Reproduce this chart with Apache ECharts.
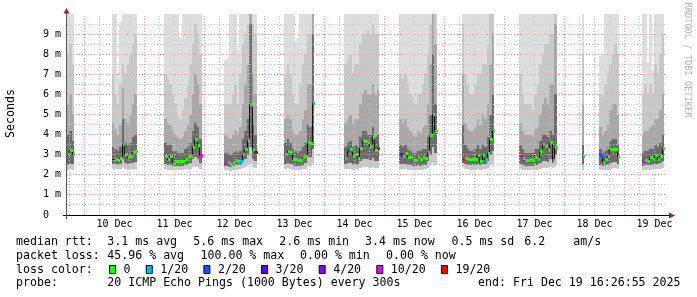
<!DOCTYPE html>
<html><head><meta charset="utf-8">
<script src="https://cdn.jsdelivr.net/npm/echarts@6/dist/echarts.min.js"></script>
<style>html,body{margin:0;padding:0;background:#fff}#c{width:697px;height:297px}</style>
</head><body><div id="c"></div>
<script>
// ---- axis / tick data ----
const dayLabels = ['10 Dec','11 Dec','12 Dec','13 Dec','14 Dec','15 Dec','16 Dec','17 Dec','18 Dec','19 Dec'];
const dayLabelHours = [12,36,60,84,108,132,156,180,204,228];   // hours since 10 Dec 00:00 (label at noon)
const yTickLabels = ['0','1 m','2 m','3 m','4 m','5 m','6 m','7 m','8 m','9 m'];
const xGridHours = [-6,0,6,12,18,24,30,36,42,48,54,60,66,72,78,84,90,96,102,108,114,120,126,132,138,144,150,156,162,168,174,180,186,192,198,204,210,216,222,228];
const yGridValues = [0.5,1,1.5,2,2.5,3,3.5,4,4.5,5,5.5,6,6.5,7,7.5,8,8.5,9,9.5];

// ---- data: hourly columns, grouped in reachable segments (values in ms) ----
const segStart = [-7, 11, 32, 56, 80, 104, 126, 151, 174, 199, 206, 223];
const median = [
 [3.02,3.23,3.02],
 [2.79,2.77,2.75,2.84,3.53,3.03,2.87,2.95,3.12,3.18],
 [2.94,2.79,2.92,2.60,2.67,2.67,2.67,2.67,2.80,2.87,2.92,3.37,3.80,3.50,3.00],
 [2.60,2.65,2.55,2.64,2.72,2.70,2.67,3.03,3.28,3.73,5.51,3.27,3.13],
 [3.02,3.20,3.13,2.77,2.77,2.74,2.72,2.90,2.92,3.62,3.58,5.56],
 [2.82,3.23,3.28,2.97,3.02,2.84,3.35,3.72,3.70,3.62,3.45,3.87,3.22,3.33],
 [3.02,2.92,3.08,2.87,2.87,2.75,2.72,2.87,2.77,2.87,2.84,3.13,3.98,5.02,4.19],
 [2.77,2.82,2.80,2.79,2.79,2.80,2.99,2.70,2.97,2.77,3.10,3.80,4.23],
 [2.94,2.82,2.72,2.76,2.79,2.74,2.90,2.80,3.20,3.53,3.45,3.27,3.65,2.75,3.40],
 [2.92],
 [2.97,2.64,2.80,2.92,3.28,3.27,3.30,2.95],
 [2.67,2.72,2.70,2.90,2.77,3.00,2.80,2.95,3.35]
];
const lossCount = [
 [0,0,0],
 [null,0,0,0,0,0,0,0,0,0],
 [0,0,0,0,0,0,0,0,0,0,0,0,0,0,10],
 [10,0,0,0,0,0,1,0,0,0,0,0,3],
 [0,0,0,0,0,0,0,0,0,0,0,1],
 [1,2,0,0,0,0,0,0,0,0,0,0,0,4],
 [3,0,0,0,0,0,0,0,0,0,0,0,0,0,0],
 [19,0,0,0,0,0,0,0,0,1,0,0,0],
 [10,0,0,0,0,0,0,0,0,0,0,0,0,0,0],
 [1],
 [2,0,0,0,0,0,0,0],
 [10,0,0,0,0,0,0,0,0]
];
const pingMin = [
 [2.25,2.3,2.25],
 [2.3,2.3,2.3,2.3,2.4,2.3,2.25,2.3,2.3,2.3],
 [2.3,2.25,2.25,2.25,2.25,2.25,2.25,2.25,2.3,2.3,2.3,2.4,2.45,2.4,2.3],
 [2.25,2.25,2.2,2.25,2.25,2.25,2.3,2.35,2.4,2.5,2.6,2.4,2.35],
 [2.3,2.35,2.3,2.25,2.25,2.25,2.25,2.3,2.3,2.45,2.45,2.6],
 [2.3,2.3,2.3,2.25,2.3,2.25,2.35,2.4,2.4,2.4,2.35,2.4,2.35,2.35],
 [2.3,2.3,2.3,2.25,2.25,2.25,2.25,2.25,2.25,2.25,2.3,2.35,2.5,2.6,2.5],
 [2.4,2.3,2.3,2.25,2.25,2.25,2.3,2.25,2.3,2.3,2.35,2.5,2.55],
 [2.3,2.25,2.25,2.25,2.25,2.25,2.25,2.25,2.3,2.35,2.35,2.35,2.4,2.35,2.45],
 [2.25],
 [2.25,2.25,2.25,2.25,2.3,2.35,2.35,2.3],
 [2.25,2.25,2.25,2.25,2.3,2.3,2.3,2.3,2.35]
];
const pingLow = [
 [2.5,2.55,2.55],
 [2.55,2.55,2.5,2.55,2.8,2.6,2.55,2.6,2.6,2.65],
 [2.55,2.5,2.5,2.45,2.45,2.45,2.45,2.45,2.5,2.55,2.6,2.8,2.9,2.8,2.6],
 [2.45,2.45,2.4,2.45,2.5,2.5,2.5,2.7,2.8,3.0,3.4,2.8,2.7],
 [2.55,2.6,2.55,2.5,2.45,2.45,2.45,2.5,2.6,2.9,2.9,3.3],
 [2.55,2.6,2.6,2.5,2.55,2.5,2.7,2.8,2.8,2.8,2.75,2.85,2.7,2.7],
 [2.55,2.55,2.55,2.5,2.5,2.45,2.45,2.5,2.45,2.5,2.5,2.7,3.0,3.4,3.1],
 [2.6,2.55,2.5,2.5,2.5,2.5,2.55,2.5,2.55,2.55,2.7,3.0,3.2],
 [2.55,2.5,2.45,2.45,2.45,2.45,2.5,2.5,2.6,2.7,2.7,2.65,2.8,2.6,3.0],
 [2.5],
 [2.5,2.45,2.5,2.5,2.6,2.65,2.65,2.55],
 [2.45,2.5,2.5,2.5,2.5,2.55,2.55,2.6,2.7]
];
const pingUp1 = [
 [4.0,4.2,3.7],
 [3.4,3.3,3.2,3.4,4.8,3.6,3.5,3.6,3.9,4.0],
 [3.6,3.5,3.5,3.2,3.2,3.1,3.1,3.1,3.3,3.4,3.6,4.2,4.6,4.4,3.8],
 [3.1,3.1,3.0,3.1,3.2,3.1,3.2,3.8,4.2,4.8,9.5,4.5,4.0],
 [3.6,3.8,3.6,3.3,3.2,3.1,3.2,3.4,3.6,4.5,4.4,9.0],
 [3.4,3.6,3.7,3.4,3.5,3.4,3.9,4.2,4.2,4.0,4.0,4.4,3.9,4.0],
 [3.5,3.4,3.5,3.3,3.2,3.1,3.1,3.2,3.2,3.3,3.3,3.9,5.0,8.0,5.5],
 [4.5,3.5,3.3,3.2,3.2,3.3,3.5,3.3,3.5,3.4,3.9,5.0,6.0],
 [3.5,3.3,3.1,3.1,3.1,3.1,3.3,3.3,3.7,4.0,4.0,3.9,4.2,4.0,6.0],
 [3.5],
 [3.3,3.1,3.2,3.3,3.7,3.8,3.8,3.5],
 [3.1,3.2,3.2,3.3,3.3,3.5,3.4,3.6,4.0]
];
const pingUp2 = [
 [5.5,6.0,5.0],
 [4.6,4.3,4.0,4.5,6.3,4.8,4.6,5.0,5.5,6.0],
 [4.8,4.6,4.5,4.2,4.0,3.9,3.8,3.9,4.2,4.5,5.0,6.0,7.0,6.5,5.5],
 [4.0,3.9,3.8,4.0,4.2,4.0,4.4,5.5,6.5,7.5,10.5,7.0,6.0],
 [4.8,5.0,4.8,4.2,4.0,4.0,4.2,4.8,5.2,6.5,6.5,10.5],
 [4.6,4.8,5.0,4.6,4.8,4.8,5.5,6.0,6.2,6.0,6.0,6.5,6.0,6.2],
 [4.8,4.6,4.8,4.4,4.2,4.0,3.9,4.2,4.1,4.4,4.5,5.5,7.5,10.5,8.5],
 [7.0,4.6,4.3,4.2,4.2,4.4,4.8,4.5,5.0,4.8,5.5,7.5,9.0],
 [4.6,4.2,4.0,4.0,4.0,3.9,4.3,4.4,5.0,5.5,5.8,5.5,6.5,6.5,9.5],
 [5.5],
 [4.4,4.0,4.2,4.5,5.2,5.5,5.5,5.0],
 [4.0,4.2,4.2,4.4,4.5,4.8,4.8,5.2,6.0]
];
const pingUp3 = [
 [8.0,8.5,7.5],
 [7.0,6.0,5.5,6.5,7.5,7.0,7.5,8.0,8.5,9.0],
 [7.0,6.8,6.5,6.0,5.5,5.0,4.8,5.2,5.8,6.5,7.5,8.5,9.5,9.0,8.0],
 [5.5,5.5,5.5,6.0,6.5,5.5,7.0,8.5,9.0,9.5,10.5,9.5,9.0],
 [7.0,7.5,7.0,6.0,5.5,5.5,6.5,7.5,8.0,9.0,9.0,10.5],
 [7.5,7.8,8.0,7.0,7.5,7.5,8.5,9.0,9.0,9.2,9.0,9.5,9.0,9.0],
 [7.0,6.8,7.0,6.5,6.0,5.8,5.5,6.0,6.0,6.5,7.0,8.0,9.5,10.5,10.5],
 [9.5,7.0,6.5,6.0,6.0,6.5,7.0,7.0,7.5,7.5,8.5,10.5,10.5],
 [7.0,6.0,5.5,5.5,5.5,5.2,6.0,6.5,7.5,8.0,8.5,8.5,9.0,9.0,10.5],
 [8.0],
 [6.0,5.8,6.5,7.0,7.5,8.0,8.5,8.0],
 [6.0,6.5,6.0,6.5,6.0,7.5,7.0,8.0,9.0]
];
const pingMax = [
 [10.5,10.5,10.5],
 [10.5,10.5,6.9,9.6,10.5,10.5,10.5,10.5,10.5,10.5],
 [10.5,10.5,10.5,10.5,10.5,10.5,8.8,10.5,10.5,10.5,10.5,10.5,10.5,10.5,10.5],
 [7.7,7.8,10.5,10.5,10.5,8.2,10.5,10.5,10.5,10.5,10.5,10.5,10.5],
 [10.5,10.5,10.5,10.5,8.6,8.8,10.5,10.5,10.5,10.5,10.5,10.5],
 [10.5,10.5,10.5,10.5,10.5,10.5,10.5,10.5,10.5,10.5,10.5,10.5,10.5,10.5],
 [10.5,10.5,10.5,10.5,10.5,10.5,10.5,10.5,10.5,10.5,10.5,10.5,10.5,10.5,10.5],
 [10.5,10.5,10.5,10.5,10.5,10.5,10.5,10.5,10.5,10.5,10.5,10.5,10.5],
 [10.5,10.5,10.5,10.5,10.5,10.5,10.5,10.5,10.5,10.5,10.5,10.5,10.5,10.5,10.5],
 [10.5],
 [7.9,8.0,10.5,10.5,10.5,10.5,10.5,10.5],
 [10.5,10.5,7.6,10.5,7.2,10.5,10.5,10.5,10.5]
];

// ---- legend data ----
const lossLevels = [0,1,2,3,4,10,19];
const lossLabels = ['0','1/20','2/20','3/20','4/20','10/20','19/20'];
const lossColors = ['#26ff00','#00b8ff','#0059ff','#5e00ff','#7e00ff','#dd00ff','#ff0000'];
const rttStats = ['3.1 ms avg','5.6 ms max','2.6 ms min','3.4 ms now','0.5 ms sd','6.2','am/s'];
const lossStats = ['45.96 % avg','100.00 % max','0.00 % min','0.00 % now'];
const probeText = '20 ICMP Echo Pings (1000 Bytes) every 300s';
const endText = 'end: Fri Dec 19 16:26:55 2025';

// ---- build series rows ----
const smokeRows = [], medRows = [];
segStart.forEach((s, i) => {
  median[i].forEach((m, k) => {
    const h = s + k;
    smokeRows.push([h, pingMin[i][k], pingLow[i][k], pingUp1[i][k], pingUp2[i][k], pingUp3[i][k], pingMax[i][k]]);
    medRows.push([h, m, lossCount[i][k] === null ? -1 : lossCount[i][k], k > 0 ? median[i][k - 1] : m]);
  });
});

function lossColor(n) {
  let c = null;
  lossLevels.forEach((lv, j) => { if (n >= lv) c = lossColors[j]; });
  return c;
}

const YMAX = 10;
const MONO = '"DejaVu Sans Mono", monospace';
const bands = [[1, 6, '#dedede'], [1, 5, '#c8c8c8'], [2, 4, '#a8a8a8'], [2, 3, '#6c6c6c']];

function renderSmoke(params, api) {
  const h = api.value(0);
  const x0 = Math.floor(api.coord([h, 0])[0]);
  const x1 = Math.floor(api.coord([h + 1, 0])[0]);
  const children = bands.map(([a, b, c]) => {
    const ya = Math.round(api.coord([h, Math.min(api.value(a), YMAX)])[1]);
    const yb = Math.round(api.coord([h, Math.min(api.value(b), YMAX)])[1]);
    return {type: 'rect', shape: {x: x0, y: yb, width: x1 - x0, height: ya - yb}, style: {fill: c}};
  });
  return {type: 'group', children};
}
function renderMedLine(params, api) {
  const h = api.value(0);
  const x0 = Math.floor(api.coord([h, 0])[0]);
  const x1 = Math.floor(api.coord([h + 1, 0])[0]);
  const y = Math.round(api.coord([h, api.value(1)])[1]) + 0.5;
  const yp = Math.round(api.coord([h, api.value(3)])[1]) + 0.5;
  return {type: 'polyline', shape: {points: [[x0 + 0.5, yp], [x0 + 0.5, y], [x1 + 0.5, y]]},
    style: {stroke: '#111', lineWidth: 1, fill: null}};
}
function renderMedian(params, api) {
  const n = api.value(2);
  if (n < 0) return null;
  const h = api.value(0);
  const x0 = Math.floor(api.coord([h, 0])[0]);
  const x1 = Math.floor(api.coord([h + 1, 0])[0]);
  const y = Math.round(api.coord([h, api.value(1)])[1]);
  return {type: 'rect', shape: {x: x0 + 1, y: y - 1, width: x1 - x0, height: 3}, style: {fill: lossColor(n)}};
}
function renderVGrid(params, api) {
  const h = api.value(0);
  const x = Math.floor(api.coord([h, 0])[0]) + 0.5;
  const yb = api.coord([h, 0])[1], yt = api.coord([h, YMAX])[1];
  return {type: 'line', shape: {x1: x, y1: yb, x2: x, y2: yt},
    style: {stroke: h % 24 === 0 ? '#e29a9a' : '#c4c4c4', lineWidth: 1, lineDash: [1, 2]}};
}
function renderHGrid(params, api) {
  const v = api.value(0);
  const y = Math.floor(api.coord([0, v])[1]) + 0.5;
  const xl = api.coord([-7, v])[0], xr = api.coord([233, v])[0];
  return {type: 'line', shape: {x1: xl, y1: y, x2: xr, y2: y},
    style: {stroke: v % 1 === 0 ? '#e29a9a' : '#c4c4c4', lineWidth: 1, lineDash: [1, 2]}};
}

// ---- legend graphics ----
const graphics = [];
const TXT = (x, y, text, extra) => ({type: 'text', x, y, style: Object.assign({text, font: '11.6px ' + MONO, fill: '#000', align: 'left', verticalAlign: 'middle'}, extra || {})});
const row = [241.5, 255.5, 269.5, 283];
graphics.push(TXT(16, row[0], 'median rtt:'));
const rttX = [107.3, 193.3, 279.3, 365, 451.5, 524.3, 573.3];
rttStats.forEach((t, i) => graphics.push(TXT(rttX[i], row[0], t)));
graphics.push(TXT(16, row[1], 'packet loss:'));
const lossX = [107.3, 200.5, 300, 386];
lossStats.forEach((t, i) => graphics.push(TXT(lossX[i], row[1], t)));
graphics.push(TXT(16, row[2], 'loss color:'));
let bx = 109;
lossLabels.forEach((t, i) => {
  graphics.push({type: 'rect', shape: {x: bx + 0.5, y: 265.5, width: 6, height: 8}, style: {fill: lossColors[i], stroke: '#000', lineWidth: 1}});
  graphics.push(TXT(bx + 14.5, row[2], t));
  bx += 29.8 + 6.96 * t.length;
});
graphics.push(TXT(16, row[3], 'probe:'));
graphics.push(TXT(107.3, row[3], probeText));
graphics.push(TXT(680.5, row[3], endText, {align: 'right'}));
graphics.push({type: 'text', x: 10.5, y: 113.5, rotation: Math.PI / 2,
  style: {text: 'Seconds', font: '11.6px ' + MONO, fill: '#000', align: 'center', verticalAlign: 'middle'}});
graphics.push({type: 'text', x: 687.5, y: 60, rotation: -Math.PI / 2,
  style: {text: 'RRDTOOL / TOBI OETIKER', font: '8.7px ' + MONO, fill: '#b4b4b4', align: 'center', verticalAlign: 'middle'}});
graphics.push({type: 'line', shape: {x1: 63, y1: 215.5, x2: 670, y2: 215.5}, style: {stroke: '#000', lineWidth: 1}, z: 10});
graphics.push({type: 'line', shape: {x1: 66.5, y1: 219, x2: 66.5, y2: 11}, style: {stroke: '#555', lineWidth: 1}, z: 10});
graphics.push({type: 'polygon', shape: {points: [[63.5, 13.5], [69.5, 13.5], [66.5, 8]]}, style: {fill: '#9a1f1f'}, z: 11});
graphics.push({type: 'polygon', shape: {points: [[669, 212.5], [669, 218.5], [675, 215.5]]}, style: {fill: '#9a1f1f'}, z: 11});

const chart = echarts.init(document.getElementById('c'), null, {renderer: 'canvas'});
chart.setOption({
  animation: false,
  backgroundColor: '#ffffff',
  grid: {left: 67, right: 30, top: 14, bottom: 82, containLabel: false},
  xAxis: {
    type: 'value', min: -7, max: 233,
    axisLine: {show: false}, axisTick: {show: false}, splitLine: {show: false},
    axisLabel: {customValues: dayLabelHours, formatter: v => dayLabels[dayLabelHours.indexOf(v)] || '',
      fontFamily: MONO, fontSize: 10, color: '#000', margin: 4}
  },
  yAxis: {
    type: 'value', min: 0, max: YMAX, interval: 1,
    axisLine: {show: false}, axisTick: {show: false}, splitLine: {show: false},
    axisLabel: {formatter: v => (yTickLabels[v] !== undefined ? yTickLabels[v] : ''), align: 'left', margin: 24,
      fontFamily: MONO, fontSize: 10, color: '#000'}
  },
  graphic: graphics,
  series: [
    {type: 'custom', name: 'smoke', data: smokeRows, renderItem: renderSmoke, z: 1, clip: true, silent: true},
    {type: 'custom', name: 'hgrid', data: yGridValues.map(v => [v]), renderItem: renderHGrid, z: 2, silent: true, encode: {y: 0}},
    {type: 'custom', name: 'vgrid', data: xGridHours.map(h => [h]), renderItem: renderVGrid, z: 2, silent: true, encode: {x: 0}},
    {type: 'custom', name: 'medianLine', data: medRows, renderItem: renderMedLine, z: 3, silent: true},
    {type: 'custom', name: 'loss', data: medRows, renderItem: renderMedian, z: 4, silent: true}
  ]
});
</script>
</body></html>
